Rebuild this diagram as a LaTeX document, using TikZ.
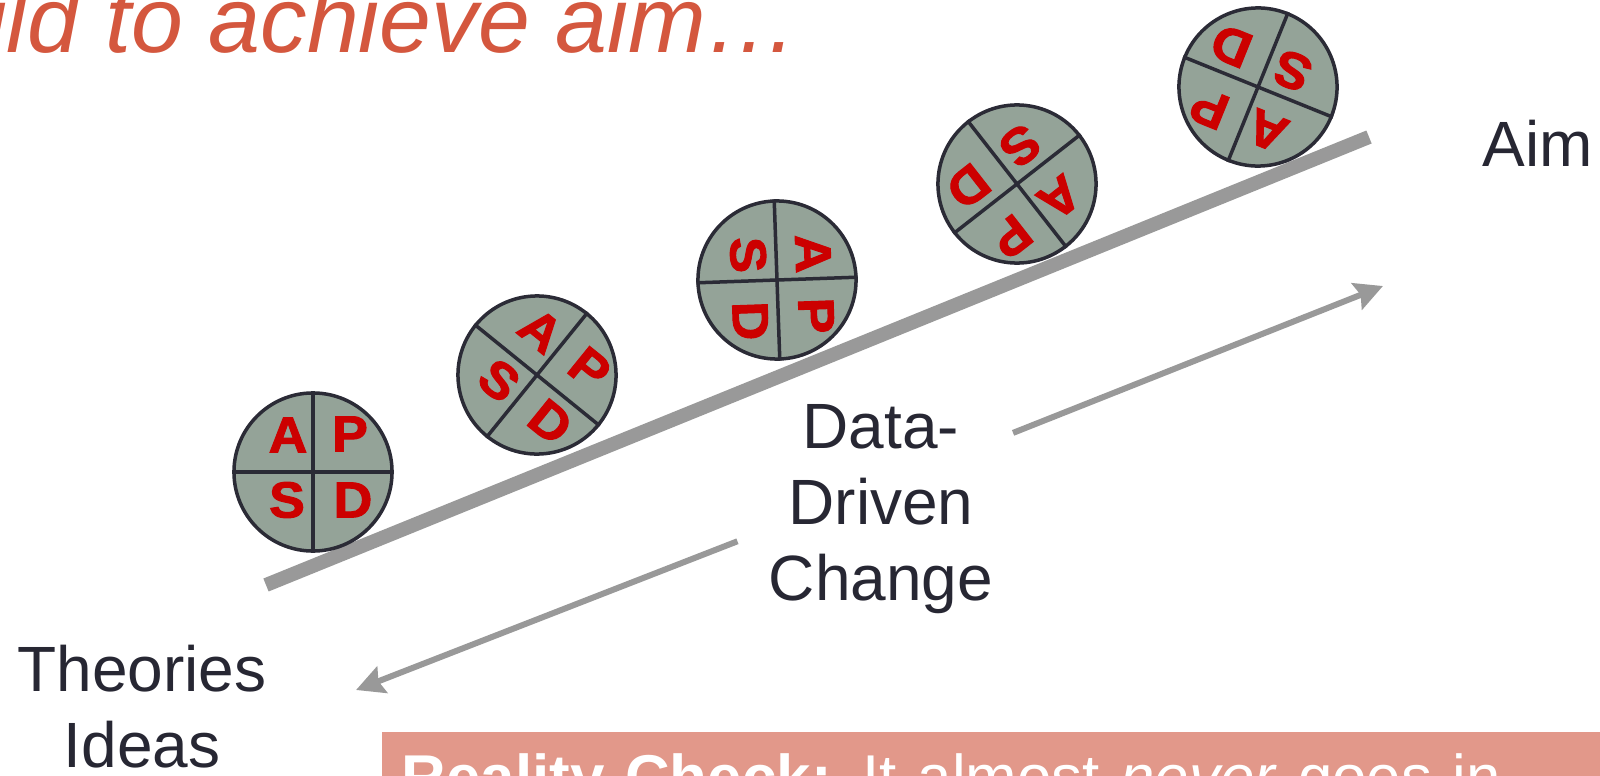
\documentclass[tikz,border=0pt]{standalone}
\usepackage{fontspec}
\setmainfont{Liberation Sans}
\newfontfamily\pdsafont{Liberation Sans}[BoldFeatures={FakeBold=2, FakeStretch=1.06}]
\usetikzlibrary{arrows.meta}
\definecolor{titlered}{HTML}{D4573E}
\definecolor{wheelgray}{HTML}{94A398}
\definecolor{rimdark}{HTML}{2B2B36}
\definecolor{pdsared}{HTML}{CC0000}
\definecolor{rampgray}{HTML}{999999}
\definecolor{inkdark}{HTML}{272733}
\definecolor{checkred}{HTML}{E2988A}

\begin{document}
\begin{tikzpicture}[x=0.01cm, y=0.01cm,
	wheel/.style={draw=rimdark, fill=wheelgray, circle, line width=0.035cm, minimum size=1.58cm, inner sep=0pt},
	spoke/.style={draw=rimdark, line width=0.035cm},
	letter/.style={text=pdsared, font=\pdsafont\fontsize{14.4}{15}\selectfont\bfseries, inner sep=0pt},
	words/.style={text=inkdark, font=\fontsize{18.2}{21.6}\selectfont, inner sep=0pt, align=center},
	flow/.style={draw=rampgray, line width=0.06cm, -{Stealth[length=0.28cm, width=0.28cm, inset=0.04cm]}},
	ramp/.style={draw=rampgray, line width=0.14cm},
	checkbox/.style={fill=checkred, text=white, font=\fontsize{17.6}{21}\selectfont, text width=11.8cm, align=left, inner xsep=0.2cm, inner ysep=0.22cm}]
			\useasboundingbox (0,0) rectangle (1600,775);
			\clip (0,0) rectangle (1600,775);
			
			\node[font=\fontsize{26.5}{30}\selectfont\itshape, text=titlered, anchor=base east, inner sep=0pt] (title) at (800,722) {uild to achieve aim…};
			
			% the slope
			\coordinate (ramp-lo) at (266,190);
			\coordinate (ramp-hi) at (1369,638);
			\draw[ramp] (ramp-lo) -- (ramp-hi);
			
			% PDSA cycles rolling up
			\foreach \cx/\cy/\turn [count=\i] in {313/303/0, 537/400/-39, 777/495/-88, 1017/591/-142, 1258/688/-202}
			{
				\begin{scope}[shift={(\cx,\cy)}, rotate=\turn, transform shape]
					\node[wheel] (wheel\i) at (0,0) {};
					\draw[spoke] (wheel\i.north) -- (wheel\i.south) (wheel\i.west) -- (wheel\i.east);
					\node[letter] (act\i) at (-25,37) {A};
					\node[letter] (plan\i) at (37,38) {P};
					\node[letter] (study\i) at (-26,-28) {S};
					\node[letter] (do\i) at (40,-28) {D};
				\end{scope}
			}
			
			\node[words, anchor=base west] (aim) at (1482,609) {Aim};
			\node[words, anchor=north] (ideas) at (142,131) {Theories\\Ideas};
			\node[words, anchor=north] (ddc) at (881,371) {Data-\\Driven\\Change};
			
			\coordinate (hub) at ([yshift=0.24cm]ddc.center);
			\coordinate (aim-tip) at (1383,489);
			\coordinate (idea-tip) at (356,85);
			\draw[flow, shorten <=1.42cm] (hub) -- (aim-tip);
			\draw[flow, shorten <=1.54cm] (hub) -- (idea-tip);
			
			\node[checkbox, anchor=north west] (check) at (381,44) {\textbf{Reality Check:} It almost \textit{never} goes in};
			
		\end{tikzpicture}
\end{document}
